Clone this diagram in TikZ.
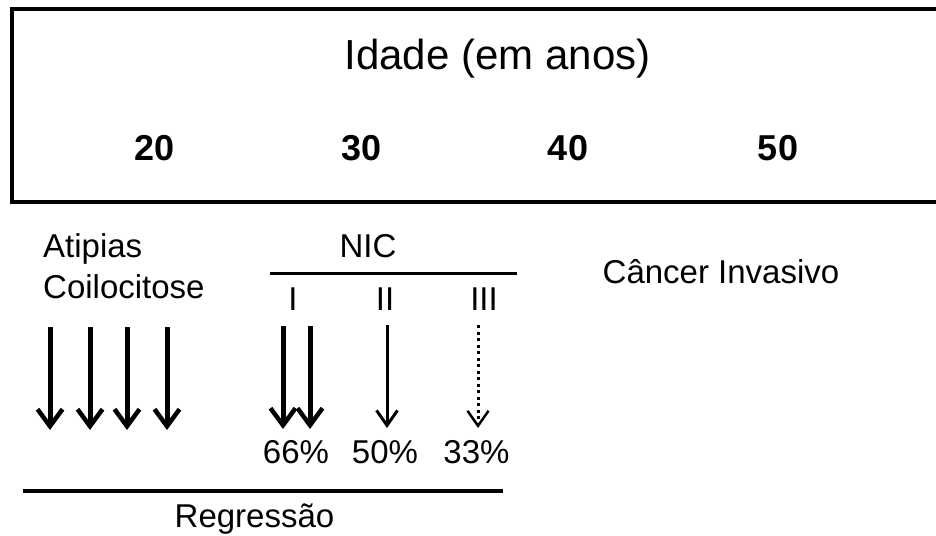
\documentclass[tikz,border=0pt]{standalone}
\usepackage{fontspec}
\setmainfont{Liberation Sans}
\usetikzlibrary{arrows.meta}
\tikzset{
  lbl/.style={inner sep=0pt, anchor=base, font=\fontsize{33}{36}\selectfont},
  titlelbl/.style={inner sep=0pt, anchor=base, font=\fontsize{42}{46}\selectfont},
  agelbl/.style={inner sep=0pt, anchor=base, font=\fontsize{36}{40}\selectfont\bfseries},
  thickarrow/.style={line width=5pt, -{Straight Barb[length=17pt,width=25pt,line width=4.5pt]}},
  thinarrow/.style={line width=3pt, -{Straight Barb[length=15pt,width=21pt,line width=3pt]}},
  dotarrow/.style={line width=3pt, dash pattern=on 3pt off 3.5pt, -{Straight Barb[length=15pt,width=21pt,line width=2.5pt]}},
  rule/.style={line width=3.2pt}
}
\begin{document}
\begin{tikzpicture}[x=1pt,y=-1pt]
\useasboundingbox (0,0) rectangle (936,535);
% box (open at the right edge)
\coordinate (bTR) at (936,9);
\coordinate (bTL) at (12,9);
\coordinate (bBL) at (12,202);
\coordinate (bBR) at (936,202);
\draw[line width=4.5pt] (bTR) -- (bTL) -- (bBL) -- (bBR);
% texts in the box
\node[titlelbl] (title) at (497.5,69) {Idade (em anos)};
\node[agelbl] (a20) at (155,160) {20};
\node[agelbl] (a30) at (362,160) {30};
\node[agelbl] (a40) at (568,160) {40};
\node[agelbl] (a50) at (778,160) {50};
% labels below
\node[lbl, anchor=base west] (atip) at (43,257) {Atipias};
\node[lbl, anchor=base west] (coil) at (43,298) {Coilocitose};
\node[lbl] (nic) at (368,257) {NIC};
\coordinate (nicL) at (270,273);
\coordinate (nicR) at (517,273);
\draw[rule, line width=3pt] (nicL) -- (nicR);
\node[lbl] (r1) at (293,310) {I};
\node[lbl] (r2) at (385,310) {II};
\node[lbl] (r3) at (484,310) {III};
\node[lbl] (canc) at (721,283) {Câncer Invasivo};
% arrows
\foreach \n/\x in {1/50,2/90,3/127,4/167}{
  \coordinate (s\n) at (\x,327);
  \coordinate (e\n) at (\x,430);
  \draw[thickarrow] (s\n) -- (e\n);
}
\coordinate (sI1) at (283,326); \coordinate (eI1) at (283,429);
\coordinate (sI2) at (310,326); \coordinate (eI2) at (310,429);
\draw[thickarrow] (sI1) -- (eI1);
\draw[thickarrow] (sI2) -- (eI2);
\coordinate (sII) at (387,325); \coordinate (eII) at (387,428);
\draw[thinarrow] (sII) -- (eII);
\coordinate (sIII) at (478,325); \coordinate (eIII) at (478,428);
\draw[dotarrow] (sIII) -- (eIII);
% percentages
\node[lbl] (p66) at (296,463) {66\%};
\node[lbl] (p50) at (385,463) {50\%};
\node[lbl] (p33) at (476.5,463) {33\%};
% regression line
\coordinate (rgL) at (23,491);
\coordinate (rgR) at (503,491);
\draw[rule] (rgL) -- (rgR);
\node[lbl] (regr) at (254.5,527) {Regressão};
\end{tikzpicture}
\end{document}
